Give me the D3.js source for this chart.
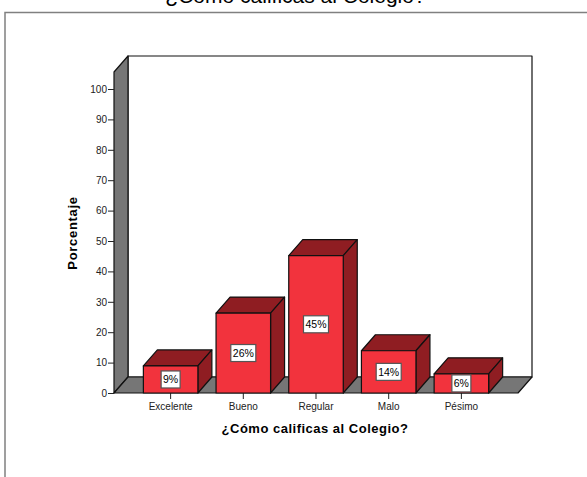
<!DOCTYPE html>
<html>
<head>
<meta charset="utf-8">
<script src="https://cdn.jsdelivr.net/npm/d3@7"></script>
<style>
  html, body { margin: 0; background: #fff; }
  svg { display: block; }
  text { font-family: "Liberation Sans", Arial, sans-serif; fill: #000; }
</style>
</head>
<body>
<div id="chart"></div>
<script>
const categories = ["Excelente", "Bueno", "Regular", "Malo", "Pésimo"];
const values = [8.9, 26.3, 45.2, 13.9, 6.3];
const labels = ["9%", "26%", "45%", "14%", "6%"];
const yTicks = [0, 10, 20, 30, 40, 50, 60, 70, 80, 90, 100];

const svg = d3.select("#chart").append("svg")
    .attr("width", 587)
    .attr("height", 477);

// depth of the fake 3d box
const dx = 14, dy = -16;

const x = d3.scaleBand()
    .domain(categories)
    .range([114, 518])
    .paddingInner(0.25)
    .paddingOuter(0.404);

const y = d3.scaleLinear()
    .domain([0, 100])
    .range([393, 89]);

const yTop = 72, yBottom = y(0), xLeft = 114, xRight = 518;

// title, cut by the top of the picture like in the original
svg.append("text")
    .attr("x", 295.5)
    .attr("y", 3)
    .attr("text-anchor", "middle")
    .style("font-size", "21px")
    .text("¿Cómo calificas al Colegio?");

// outer frame, open on the right
svg.append("path")
    .attr("d", "M5,477V12.5H587")
    .attr("fill", "none")
    .attr("stroke", "#808080")
    .attr("stroke-width", 1.5);

const box = svg.append("g")
    .attr("stroke", "#111")
    .attr("stroke-width", 1.2)
    .attr("stroke-linejoin", "round");

// back wall
box.append("rect")
    .attr("x", xLeft + dx)
    .attr("y", yTop + dy)
    .attr("width", xRight - xLeft)
    .attr("height", yBottom - yTop)
    .attr("fill", "#fff");

// left wall
box.append("path")
    .attr("d", d3.line()([[xLeft, yTop], [xLeft + dx, yTop + dy], [xLeft + dx, yBottom + dy], [xLeft, yBottom]]) + "Z")
    .attr("fill", "#767676");

// floor
box.append("path")
    .attr("d", d3.line()([[xLeft, yBottom], [xLeft + dx, yBottom + dy], [xRight + dx, yBottom + dy], [xRight, yBottom]]) + "Z")
    .attr("fill", "#767676");

// Y axis
const yAxis = svg.append("g")
    .attr("transform", `translate(${xLeft},0)`)
    .call(d3.axisLeft(y).tickValues(yTicks).tickSize(6).tickPadding(1));
yAxis.select(".domain").remove();
yAxis.selectAll("line").attr("stroke", "#222");
yAxis.selectAll("text").style("font-size", "10px").style("fill", "#222");

// X axis
const xAxis = svg.append("g")
    .attr("transform", `translate(0,${yBottom})`)
    .call(d3.axisBottom(x).tickSize(6).tickPadding(4));
xAxis.select(".domain").remove();
xAxis.selectAll("line").attr("stroke", "#222");
xAxis.selectAll("text").style("font-size", "10px").style("fill", "#222");

// Bars
const bars = svg.selectAll("g.bar")
    .data(categories)
    .join("g")
    .attr("class", "bar")
    .attr("stroke", "#111")
    .attr("stroke-width", 1.2)
    .attr("stroke-linejoin", "round");

bars.append("path")
    .attr("d", (d, i) => {
        const x0 = x(d), x1 = x0 + x.bandwidth(), t = y(values[i]);
        return d3.line()([[x0, t], [x0 + dx, t + dy], [x1 + dx, t + dy], [x1, t]]) + "Z";
    })
    .attr("fill", "#8f1d22");

bars.append("path")
    .attr("d", (d, i) => {
        const x1 = x(d) + x.bandwidth(), t = y(values[i]);
        return d3.line()([[x1, t], [x1 + dx, t + dy], [x1 + dx, yBottom + dy], [x1, yBottom]]) + "Z";
    })
    .attr("fill", "#8f1d22");

bars.append("rect")
    .attr("x", d => x(d))
    .attr("y", (d, i) => y(values[i]))
    .attr("width", x.bandwidth())
    .attr("height", (d, i) => yBottom - y(values[i]))
    .attr("fill", "#f2333d");

// value labels in the middle of the front face
const tags = svg.selectAll("g.tag")
    .data(categories)
    .join("g")
    .attr("class", "tag")
    .attr("transform", (d, i) => `translate(${x(d) + x.bandwidth() / 2},${(y(values[i]) + yBottom) / 2})`);

tags.append("rect")
    .attr("x", (d, i) => -(labels[i].length * 3 + 3.5))
    .attr("y", -8.5)
    .attr("width", (d, i) => 2 * (labels[i].length * 3 + 3.5))
    .attr("height", 17)
    .attr("fill", "#fff")
    .attr("stroke", "#555")
    .attr("stroke-width", 1.2);

tags.append("text")
    .attr("text-anchor", "middle")
    .attr("dy", "0.35em")
    .style("font-size", "10.5px")
    .text((d, i) => labels[i]);

// axis titles
svg.append("text")
    .attr("x", 315)
    .attr("y", 433)
    .attr("text-anchor", "middle")
    .style("font-size", "13px")
    .style("font-weight", "bold")
    .style("letter-spacing", "0.5px")
    .text("¿Cómo calificas al Colegio?");

svg.append("text")
    .attr("transform", "translate(77,233) rotate(-90)")
    .attr("text-anchor", "middle")
    .style("font-size", "13px")
    .style("font-weight", "bold")
    .style("letter-spacing", "0.7px")
    .text("Porcentaje");
</script>
</body>
</html>
